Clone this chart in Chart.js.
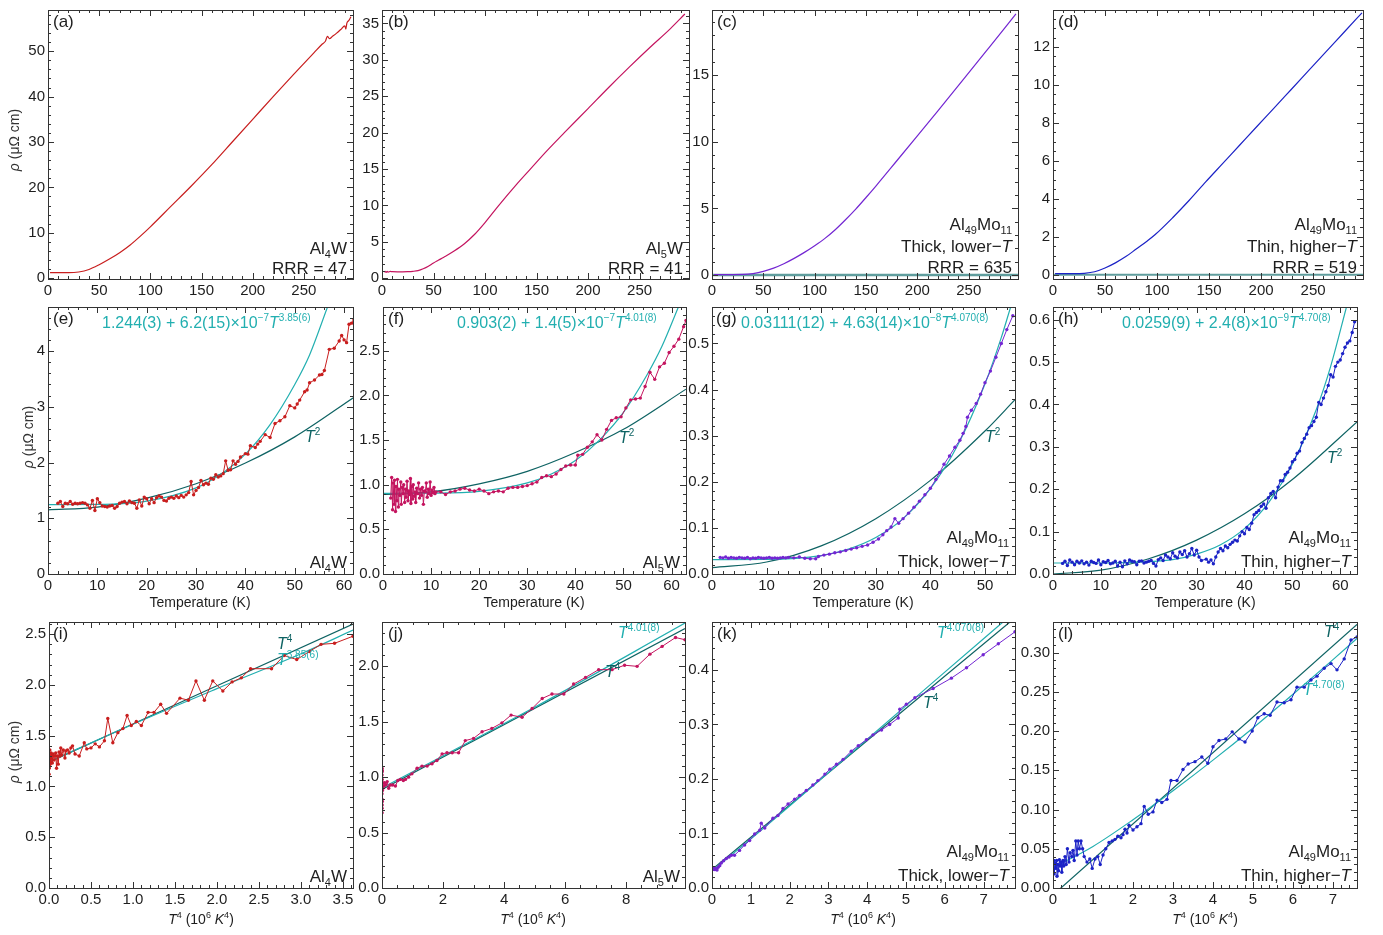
<!DOCTYPE html>
<html>
<head>
<meta charset="utf-8">
<script src="https://cdn.jsdelivr.net/npm/chart.js@4.4.1/dist/chart.umd.min.js"></script>
<style>
  body { margin: 0; background: #fff; width: 1383px; height: 935px; position: relative; overflow: hidden; }
  canvas { position: absolute; }
</style>
</head>
<body>
<script>
// readings taken off the figure: [T (K) or T^4 (10^6 K^4), rho (uOhm cm)]

// top row, full temperature range
const aRho = [[2,1.2],[10,1.2],[20,1.2],[30,1.35],[40,1.9],[50,2.95],[60,4.2],[70,5.6],[80,7.25],[90,9.2],[100,11.3],[120,15.8],[140,20.3],[160,25.0],[180,30.0],[200,35.0],[220,40.0],[240,44.9],[260,49.7],[268,51.6],[271,52.2],[273,53.3],[275,52.8],[278,53.3],[282,54.0],[286,54.8],[290,55.6],[291,54.9],[292,56.2],[294,56.8],[296,57.6]];
const bRho = [[2,0.85],[3,0.95],[4,0.8],[5,0.95],[6,0.85],[8,0.95],[10,0.9],[15,0.88],[20,0.88],[25,0.9],[30,0.95],[35,1.05],[40,1.3],[45,1.65],[50,2.1],[55,2.5],[60,2.9],[70,3.75],[80,4.75],[90,6.05],[100,7.65],[113,9.95],[130,12.8],[144,15.0],[160,17.5],[177,20.0],[200,23.3],[220,26.2],[240,29.0],[260,31.7],[280,34.3],[294,36.3]];
const cRho = [[2,0.03],[10,0.03],[20,0.03],[30,0.04],[40,0.11],[50,0.27],[60,0.52],[70,0.85],[80,1.25],[90,1.7],[100,2.2],[110,2.75],[120,3.4],[130,4.15],[140,4.95],[150,5.82],[160,6.72],[180,8.58],[200,10.45],[220,12.33],[246,14.8],[270,17.1],[296,19.6]];
const dRho = [[2,0.05],[10,0.05],[20,0.05],[30,0.07],[40,0.15],[50,0.35],[60,0.62],[70,0.95],[80,1.35],[90,1.75],[98,2.1],[115,3.0],[131,3.92],[147,4.9],[163,5.85],[180,6.86],[196,7.81],[212,8.75],[229,9.76],[245,10.71],[261,11.66],[280,12.79],[297,13.8]];
const zeroLine = [[0,0],[298,0]];

// middle row, low temperature
const eRho = [[2,1.27],[2.5,1.30],[3,1.21],[3.5,1.27],[4,1.26],[4.5,1.30],[5,1.25],[5.5,1.27],[6,1.26],[6.5,1.27],[7,1.28],[7.5,1.27],[8,1.24],[8.5,1.18],[9,1.32],[9.5,1.14],[10,1.35],[10.5,1.28],[11,1.22],[11.5,1.21],[12,1.20],[12.5,1.22],[13,1.23],[13.5,1.18],[14,1.21],[14.5,1.27],[15,1.29],[15.5,1.30],[16,1.26],[16.5,1.31],[17,1.28],[17.5,1.27],[18,1.18],[18.5,1.33],[19,1.22],[19.5,1.38],[20,1.35],[20.5,1.26],[21,1.35],[21.5,1.28],[22,1.37],[22.5,1.40],[23,1.38],[23.5,1.32],[24,1.31],[24.5,1.36],[25,1.38],[25.5,1.36],[26,1.40],[26.5,1.37],[27,1.41],[27.5,1.38],[28,1.42],[28.5,1.46],[29,1.66],[29.5,1.42],[30,1.50],[30.5,1.55],[31,1.68],[31.5,1.60],[32,1.63],[32.5,1.61],[33,1.72],[33.5,1.70],[34,1.78],[34.5,1.74],[35,1.76],[35.5,1.80],[36,2.03],[36.5,1.86],[37,1.87],[37.5,2.03],[38,1.97],[38.5,2.02],[39,2.10],[40,2.16],[40.5,2.15],[41,2.30],[42,2.27],[42.5,2.33],[43,2.38],[44,2.50],[45,2.45],[46,2.70],[47,2.75],[48,2.82],[49,3.02],[50,2.98],[50.5,3.05],[51,3.12],[52,3.27],[52.5,3.30],[53,3.43],[54,3.48],[55,3.57],[55.5,3.58],[56,3.65],[57,4.03],[58,4.05],[59,4.18],[59.5,4.28],[60,4.20],[60.5,4.15],[61,4.48],[61.5,4.50],[62,4.56]];
const eFit = [[0,1.244],[10,1.248],[20,1.307],[30,1.545],[35,1.79],[40,2.15],[45,2.68],[50,3.4],[53,3.93],[56.6,4.78]];
const eT2 = [[0,1.15],[10,1.2],[20,1.36],[30,1.62],[40,1.99],[50,2.46],[62,3.17]];

const fRho = [[1.6,0.85],[1.8,1.08],[2.0,0.72],[2.1,1.02],[2.3,0.78],[2.4,1.05],[2.6,0.70],[2.7,0.98],[2.9,0.82],[3.0,1.06],[3.2,0.75],[3.3,0.95],[3.5,0.88],[3.7,1.03],[3.8,0.78],[4.0,0.97],[4.2,0.90],[4.3,1.00],[4.5,0.80],[4.7,0.95],[4.8,0.86],[5.0,1.04],[5.2,0.82],[5.3,0.93],[5.5,0.89],[5.7,1.07],[5.8,0.79],[6.0,0.98],[6.2,0.84],[6.3,1.00],[6.5,0.87],[6.7,0.92],[6.8,0.80],[7.0,0.96],[7.2,0.90],[7.4,1.02],[7.6,0.85],[7.8,0.95],[8.0,0.88],[8.2,0.97],[8.4,0.78],[8.6,0.93],[8.8,0.92],[9.0,1.02],[9.2,0.86],[9.4,0.95],[9.6,0.90],[9.8,1.03],[10.0,0.88],[10.2,0.94],[10.4,0.91],[10.6,0.97],[10.8,0.90],[11.0,0.92],[12,0.92],[13,0.89],[14,0.92],[15,0.93],[16,0.95],[17,0.96],[18,0.94],[19,0.93],[20,0.95],[21,0.93],[22,0.90],[23,0.92],[24,0.93],[25,0.92],[26,0.96],[27,0.97],[28,0.97],[29,0.98],[30,0.99],[31,1.01],[32,1.03],[33,1.08],[34,1.10],[35,1.09],[36,1.12],[37,1.17],[38,1.21],[39,1.22],[40,1.22],[40.5,1.33],[41.5,1.34],[42.5,1.42],[43.5,1.48],[44.5,1.56],[45.5,1.50],[46.5,1.62],[47.5,1.72],[48.5,1.75],[49.5,1.76],[50.5,1.86],[51.5,1.95],[52.5,1.96],[53.5,1.97],[54.5,2.10],[55.5,2.26],[56.5,2.18],[57.5,2.32],[58.5,2.36],[59.5,2.48],[60.5,2.55],[61.5,2.63],[62.5,2.77],[63,2.84]];
const fFit = [[0,0.903],[10,0.905],[20,0.925],[30,1.02],[35,1.12],[40,1.27],[45,1.5],[50,1.81],[55,2.24],[58,2.55],[61.5,3.0]];
const fT2 = [[0,0.89],[10,0.92],[20,1.01],[30,1.15],[40,1.36],[50,1.62],[63,2.07]];

const gRho = [[1.5,0.036],[2,0.035],[2.5,0.037],[3,0.034],[3.5,0.036],[4,0.035],[4.5,0.034],[5,0.036],[5.5,0.035],[6,0.034],[6.5,0.036],[7,0.033],[7.5,0.035],[8,0.034],[8.5,0.036],[9,0.035],[9.5,0.034],[10,0.035],[10.5,0.036],[11,0.034],[11.5,0.035],[12,0.034],[12.5,0.035],[13,0.036],[13.5,0.035],[14,0.036],[15,0.035],[16,0.037],[17,0.034],[18,0.033],[19,0.033],[19.5,0.038],[20.5,0.041],[21.5,0.043],[22.5,0.046],[23.5,0.048],[24.5,0.051],[25.5,0.054],[26.5,0.057],[27.5,0.06],[28.5,0.063],[29.5,0.069],[30.5,0.076],[31.3,0.085],[32,0.094],[32.8,0.102],[33.5,0.12],[34.2,0.11],[35,0.12],[36,0.132],[37,0.145],[38,0.158],[39,0.172],[40,0.186],[41,0.205],[41.7,0.22],[42.5,0.238],[43.5,0.256],[44.5,0.275],[45.4,0.29],[46,0.305],[46.5,0.32],[46.8,0.34],[47.5,0.355],[48.4,0.37],[49.2,0.39],[50,0.415],[51,0.44],[52,0.47],[53,0.5],[54,0.53],[55.1,0.56]];
const gFit = [[0,0.0311],[10,0.0316],[20,0.040],[25,0.054],[30,0.079],[35,0.12],[40,0.185],[45,0.279],[50,0.412],[53,0.513],[54.7,0.579]];
const gT2 = [[0,0.014],[10,0.026],[20,0.061],[30,0.12],[40,0.203],[50,0.31],[55.5,0.378]];

const hRho = [[2,0.025],[2.5,0.030],[3,0.020],[3.5,0.033],[4,0.028],[4.5,0.022],[5,0.030],[5.5,0.026],[6,0.031],[6.5,0.024],[7,0.028],[7.5,0.021],[8,0.030],[8.5,0.027],[9,0.025],[9.5,0.033],[10,0.022],[10.5,0.029],[11,0.027],[11.5,0.032],[12,0.024],[12.5,0.026],[13,0.030],[13.5,0.019],[14,0.028],[14.5,0.017],[15,0.031],[15.5,0.024],[16,0.033],[16.5,0.030],[17,0.029],[17.5,0.022],[18,0.030],[18.5,0.031],[19,0.026],[19.5,0.028],[20,0.030],[20.5,0.032],[21,0.025],[21.5,0.019],[22,0.034],[22.5,0.038],[23,0.032],[23.5,0.045],[24,0.040],[24.5,0.036],[25,0.050],[25.5,0.042],[26,0.038],[26.5,0.052],[27,0.046],[27.5,0.055],[28,0.040],[28.5,0.048],[29,0.060],[29.5,0.045],[30,0.056],[30.5,0.040],[31,0.032],[32,0.035],[32.5,0.028],[33,0.033],[33.5,0.024],[34,0.040],[34.5,0.052],[35,0.060],[35.5,0.055],[36,0.066],[36.5,0.062],[37,0.070],[37.5,0.075],[38,0.080],[38.5,0.078],[39,0.090],[39.5,0.100],[40,0.095],[40.5,0.110],[41,0.105],[41.5,0.120],[42,0.140],[42.5,0.145],[43,0.150],[43.5,0.160],[44,0.165],[44.5,0.155],[45,0.180],[45.5,0.190],[46,0.195],[46.5,0.180],[47,0.205],[47.5,0.220],[48,0.220],[48.5,0.235],[49,0.240],[49.5,0.250],[50,0.265],[50.5,0.270],[51,0.285],[51.5,0.290],[52,0.310],[52.5,0.320],[53,0.330],[53.5,0.345],[54,0.350],[54.5,0.360],[55,0.370],[55.5,0.405],[56,0.400],[56.5,0.415],[57,0.430],[57.5,0.445],[58,0.470],[58.5,0.465],[59,0.490],[59.5,0.500],[60,0.505],[60.5,0.520],[61,0.535],[61.5,0.545],[62,0.550],[62.5,0.570],[63,0.595]];
const hFit = [[0,0.0259],[10,0.026],[20,0.029],[25,0.034],[30,0.047],[35,0.069],[40,0.107],[45,0.168],[50,0.259],[55,0.388],[58,0.49],[61.3,0.63]];
const hT2 = [[0,0.0],[10,0.009],[20,0.036],[30,0.08],[40,0.142],[50,0.223],[63.5,0.359]];

// bottom row, against T^4
const iRho = [[0,1.25],[0.001,1.12],[0.002,1.3],[0.003,1.18],[0.005,1.33],[0.007,1.2],[0.01,1.36],[0.013,1.22],[0.016,1.3],[0.02,1.24],[0.025,1.33],[0.03,1.27],[0.035,1.3],[0.04,1.23],[0.05,1.32],[0.06,1.26],[0.07,1.3],[0.08,1.33],[0.09,1.18],[0.1,1.3],[0.11,1.22],[0.12,1.34],[0.13,1.3],[0.14,1.38],[0.15,1.31],[0.17,1.36],[0.19,1.28],[0.2,1.35],[0.22,1.36],[0.24,1.33],[0.26,1.38],[0.28,1.4],[0.31,1.32],[0.36,1.3],[0.42,1.43],[0.45,1.37],[0.5,1.38],[0.55,1.42],[0.6,1.39],[0.66,1.45],[0.7,1.67],[0.76,1.43],[0.82,1.53],[0.88,1.57],[0.93,1.7],[0.98,1.6],[1.04,1.64],[1.1,1.6],[1.18,1.73],[1.25,1.73],[1.33,1.81],[1.4,1.72],[1.56,1.87],[1.66,1.85],[1.75,2.04],[1.85,1.85],[1.95,2.04],[2.07,1.94],[2.18,2.03],[2.29,2.07],[2.4,2.16],[2.65,2.16],[2.8,2.29],[2.95,2.25],[3.1,2.33],[3.24,2.4],[3.4,2.41],[3.62,2.48]];
const iFit = [[0,1.244],[1,1.613],[2,1.964],[3,2.307],[3.62,2.54]];
const iT4 = [[0,1.24],[3.62,2.6]];

const jRho = [[0,0.85],[0.001,1.08],[0.002,0.72],[0.003,1.02],[0.004,0.68],[0.005,1.05],[0.006,0.75],[0.007,0.98],[0.008,0.8],[0.009,1.06],[0.01,0.78],[0.012,0.95],[0.014,0.88],[0.02,0.92],[0.03,0.9],[0.05,0.92],[0.08,0.95],[0.12,0.93],[0.17,0.96],[0.22,0.9],[0.28,0.93],[0.35,0.93],[0.44,0.92],[0.52,0.97],[0.6,0.98],[0.7,0.97],[0.77,0.98],[0.87,1.0],[0.98,1.03],[1.15,1.08],[1.31,1.1],[1.48,1.1],[1.64,1.12],[1.8,1.15],[1.97,1.21],[2.13,1.22],[2.3,1.22],[2.51,1.22],[2.73,1.33],[3.0,1.35],[3.28,1.41],[3.6,1.44],[3.93,1.49],[4.23,1.56],[4.59,1.54],[4.92,1.62],[5.25,1.71],[5.57,1.75],[5.96,1.75],[6.28,1.84],[6.67,1.9],[7.1,1.97],[7.54,1.97],[7.95,2.01],[8.36,2.0],[8.78,2.11],[9.18,2.18],[9.62,2.26],[9.93,2.24]];
const jFit = [[0,0.903],[5,1.63],[9.93,2.39]];
const jT4 = [[0,0.89],[9.93,2.34]];

const kRho = [[0,0.036],[0.002,0.034],[0.005,0.037],[0.01,0.035],[0.02,0.034],[0.03,0.036],[0.05,0.035],[0.07,0.034],[0.09,0.036],[0.11,0.034],[0.13,0.033],[0.16,0.038],[0.2,0.041],[0.24,0.046],[0.3,0.05],[0.37,0.054],[0.44,0.057],[0.5,0.06],[0.58,0.06],[0.71,0.069],[0.84,0.079],[0.97,0.087],[1.1,0.099],[1.23,0.106],[1.27,0.119],[1.36,0.11],[1.57,0.128],[1.7,0.133],[1.83,0.146],[1.96,0.154],[2.13,0.163],[2.26,0.17],[2.43,0.179],[2.6,0.189],[2.73,0.197],[2.91,0.209],[3.04,0.218],[3.21,0.227],[3.38,0.236],[3.59,0.251],[3.77,0.261],[3.98,0.272],[4.15,0.281],[4.37,0.29],[4.58,0.3],[4.8,0.312],[4.84,0.328],[5.01,0.337],[5.23,0.349],[5.7,0.366],[6.17,0.385],[6.56,0.404],[6.99,0.428],[7.38,0.448],[7.81,0.47]];
const kFit = [[0,0.0311],[1,0.09],[2,0.1505],[4,0.2728],[6,0.396],[7.5,0.488]];
const kT4 = [[0,0.034],[7.68,0.488]];

const lRho = [[0,0.03],[0.01,0.02],[0.02,0.035],[0.03,0.018],[0.05,0.032],[0.07,0.025],[0.09,0.035],[0.1,0.015],[0.12,0.03],[0.14,0.022],[0.16,0.036],[0.18,0.028],[0.2,0.033],[0.22,0.02],[0.25,0.035],[0.27,0.028],[0.3,0.04],[0.33,0.03],[0.36,0.05],[0.4,0.033],[0.43,0.045],[0.47,0.04],[0.5,0.048],[0.53,0.035],[0.57,0.06],[0.6,0.042],[0.63,0.06],[0.66,0.05],[0.7,0.06],[0.74,0.05],[0.78,0.04],[0.85,0.033],[0.92,0.037],[0.98,0.025],[1.05,0.037],[1.12,0.04],[1.18,0.03],[1.25,0.042],[1.32,0.05],[1.4,0.058],[1.48,0.06],[1.55,0.062],[1.62,0.066],[1.7,0.064],[1.75,0.068],[1.8,0.075],[1.85,0.07],[1.9,0.08],[2.0,0.074],[2.1,0.078],[2.2,0.082],[2.28,0.104],[2.38,0.094],[2.5,0.097],[2.6,0.112],[2.72,0.109],[2.85,0.113],[2.95,0.137],[3.1,0.137],[3.25,0.151],[3.38,0.158],[3.55,0.161],[3.72,0.167],[3.87,0.159],[4.0,0.18],[4.15,0.188],[4.32,0.19],[4.48,0.199],[4.65,0.19],[4.8,0.186],[4.98,0.2],[5.12,0.217],[5.28,0.222],[5.43,0.22],[5.6,0.237],[5.78,0.236],[5.95,0.24],[6.1,0.256],[6.28,0.256],[6.45,0.265],[6.6,0.27],[6.78,0.28],[6.95,0.286],[7.1,0.278],[7.28,0.292],[7.45,0.316],[7.6,0.32]];
const lFit = [[0,0.0259],[1,0.053],[2,0.087],[3,0.124],[4,0.163],[5,0.204],[6,0.247],[7,0.291],[7.6,0.318]];
const lT4 = [[0,-0.009],[7.6,0.336]];

// text
const fitE = '1.244(3) + 6.2(15)×10^{−7}*T*^{3.85(6)}';
const fitF = '0.903(2) + 1.4(5)×10^{−7}*T*^{4.01(8)}';
const fitG = '0.03111(12) + 4.63(14)×10^{−8}*T*^{4.070(8)}';
const fitH = '0.0259(9) + 2.4(8)×10^{−9}*T*^{4.70(8)}';
const rhoTitle = '*ρ* (μΩ cm)';
const tempTitle = 'Temperature (K)';
const t4Title = '*T*^{4} (10^{6} *K*^{4})';

const FAM = '"Liberation Sans", Arial, Helvetica, sans-serif';
const INK = '#1e1e1e';
const RED = '#c81e1e', CRIMSON = '#c4145f', PURPLE = '#7326d2', BLUE = '#1b22c6';
const CYAN = '#22afb0', TEAL = '#0e6363', ZERO = '#5f9d9d';

Chart.defaults.font.family = FAM;
Chart.defaults.color = INK;

function pts(arr) { return arr.map(p => ({ x: p[0], y: p[1] })); }

function curve(arr, color) {
  return { data: pts(arr), borderColor: color, backgroundColor: color, borderWidth: 1.2,
    pointRadius: 0, showLine: true, cubicInterpolationMode: 'monotone' };
}
function straight(arr, color, width) {
  return { data: pts(arr), borderColor: color, borderWidth: width, pointRadius: 0, showLine: true, tension: 0 };
}
function measured(arr, color) {
  return { data: pts(arr), borderColor: color, backgroundColor: color, borderWidth: 1,
    pointRadius: 1.7, pointBorderWidth: 0, showLine: true, tension: 0 };
}
function fit(arr, color) {
  return { data: pts(arr), borderColor: color, borderWidth: 1.2, pointRadius: 0,
    showLine: true, cubicInterpolationMode: 'monotone' };
}

// tiny markup: ^{..} superscript, _{..} subscript, *..* italic
function parseRich(s) {
  const segs = [];
  let i = 0, it = false, buf = '';
  const flush = () => { if (buf) segs.push({ t: buf, mode: 'n', it }); buf = ''; };
  while (i < s.length) {
    const c = s[i];
    if ((c === '^' || c === '_') && s[i + 1] === '{') {
      flush();
      const j = s.indexOf('}', i);
      segs.push({ t: s.slice(i + 2, j), mode: c === '^' ? 'sup' : 'sub', it: false });
      i = j + 1;
      continue;
    }
    if (c === '*') { flush(); it = !it; i++; continue; }
    buf += c; i++;
  }
  flush();
  return segs;
}

function drawRich(ctx, s, x, y, align, size, color) {
  const segs = parseRich(s);
  const small = Math.round(size * 0.64);
  let total = 0;
  segs.forEach(g => {
    g.font = (g.it ? 'italic ' : '') + (g.mode === 'n' ? size : small) + 'px ' + FAM;
    ctx.font = g.font;
    g.w = ctx.measureText(g.t).width;
    total += g.w;
  });
  let cx = align === 'right' ? x - total : align === 'center' ? x - total / 2 : x;
  ctx.fillStyle = color;
  ctx.textAlign = 'left';
  ctx.textBaseline = 'alphabetic';
  segs.forEach(g => {
    ctx.font = g.font;
    const dy = g.mode === 'sup' ? -size * 0.42 : g.mode === 'sub' ? size * 0.24 : 0;
    ctx.fillText(g.t, cx, y + dy);
    cx += g.w;
  });
}

function framePlugin(p, ox, oy) {
  return {
    id: 'frame_' + p.key,
    afterDatasetsDraw(chart) {
      const { ctx, chartArea: a, scales } = chart;
      ctx.save();
      ctx.strokeStyle = '#333';
      ctx.lineWidth = 1;
      const marks = (scale, major, minor, horiz) => {
        const k0 = Math.ceil(scale.min / minor - 1e-6);
        for (let k = k0; k * minor <= scale.max + 1e-9; k++) {
          const v = k * minor;
          const r = v / major;
          const len = Math.abs(r - Math.round(r)) < 1e-6 ? 6 : 3;
          const q = Math.round(scale.getPixelForValue(v)) + 0.5;
          ctx.beginPath();
          if (horiz) {
            ctx.moveTo(q, a.bottom); ctx.lineTo(q, a.bottom - len);
            ctx.moveTo(q, a.top); ctx.lineTo(q, a.top + len);
          } else {
            ctx.moveTo(a.left, q); ctx.lineTo(a.left + len, q);
            ctx.moveTo(a.right, q); ctx.lineTo(a.right - len, q);
          }
          ctx.stroke();
        }
      };
      marks(scales.x, p.x[2], p.x[3], true);
      marks(scales.y, p.y[2], p.y[3], false);
      ctx.strokeRect(Math.round(a.left) + 0.5, Math.round(a.top) + 0.5,
        Math.round(a.right - a.left), Math.round(a.bottom - a.top));
      ctx.restore();
    },
    afterDraw(chart) {
      const ctx = chart.ctx;
      ctx.save();
      p.texts.forEach(t => drawRich(ctx, t[0], t[1] - ox, t[2] - oy, t[3] || 'left', t[4] || 17, t[5] || INK));
      if (p.xTitle) drawRich(ctx, p.xTitle[0], p.xTitle[1] - ox, p.xTitle[2] - oy, 'center', 14, INK);
      if (p.yTitle) {
        ctx.save();
        ctx.translate(p.yTitle[1] - ox, p.yTitle[2] - oy);
        ctx.rotate(-Math.PI / 2);
        drawRich(ctx, p.yTitle[0], 0, 5, 'center', 14, '#333');
        ctx.restore();
      }
      ctx.restore();
    }
  };
}

function build(p) {
  const [bx, by, bw, bh] = p.box;
  const ox = bx - 46, oy = by - 6;
  const W = bw + 56, H = bh + 6 + p.bm;
  const cv = document.createElement('canvas');
  cv.width = W; cv.height = H;
  cv.style.left = ox + 'px'; cv.style.top = oy + 'px';
  cv.style.width = W + 'px'; cv.style.height = H + 'px';
  document.body.appendChild(cv);
  const axis = (r, dec, fitSize) => ({
    type: 'linear', min: r[0], max: r[1],
    afterFit: fitSize,
    // labelled ticks on exact multiples of the step, inside the range only
    afterBuildTicks: s => {
      const t = [];
      for (let k = Math.ceil(r[0] / r[2] - 1e-9); k * r[2] <= r[1] + 1e-9; k++) {
        t.push({ value: +(k * r[2]).toFixed(6) });
      }
      s.ticks = t;
    },
    grid: { display: false, drawTicks: false },
    border: { display: false },
    ticks: { autoSkip: false, maxRotation: 0, minRotation: 0, padding: 3,
      font: { size: 15 }, color: INK,
      callback: v => Number(v).toFixed(dec) }
  });
  new Chart(cv, {
    type: 'scatter',
    data: { datasets: p.series },
    options: {
      responsive: false, animation: false, devicePixelRatio: 1,
      layout: { autoPadding: false, padding: { left: 0, top: 6, right: 10, bottom: 0 } },
      plugins: { legend: { display: false }, tooltip: { enabled: false } },
      scales: {
        x: axis(p.x, p.xd || 0, s => { s.height = p.bm; }),
        y: axis(p.y, p.yd || 0, s => { s.width = 46; })
      }
    },
    plugins: [framePlugin(p, ox, oy)]
  });
}

const panels = [
  { key: 'a', box: [48, 4, 305, 275], bm: 26, x: [0, 298, 50, 10], y: [-0.2, 59.1, 10, 2],
    series: [curve(aRho, RED)], yTitle: [rhoTitle, 14, 140],
    texts: [['(a)', 53, 27], ['Al_{4}W', 347, 254, 'right'], ['RRR = 47', 347, 274, 'right']] },
  { key: 'b', box: [382, 4, 307, 275], bm: 26, x: [0, 298, 50, 10], y: [-0.1, 36.85, 5, 1],
    series: [curve(bRho, CRIMSON)],
    texts: [['(b)', 388, 27], ['Al_{5}W', 683, 254, 'right'], ['RRR = 41', 683, 274, 'right']] },
  { key: 'c', box: [712, 4, 306, 275], bm: 26, x: [0, 298, 50, 10], y: [-0.3, 19.9, 5, 1],
    series: [curve(cRho, PURPLE), straight(zeroLine, ZERO, 2.4)],
    texts: [['(c)', 717, 27], ['Al_{49}Mo_{11}', 1012, 230, 'right'], ['Thick, lower−*T*', 1012, 252, 'right'], ['RRR = 635', 1012, 273, 'right']] },
  { key: 'd', box: [1053, 4, 310, 275], bm: 26, x: [0, 298, 50, 10], y: [-0.23, 13.95, 2, 0.5],
    series: [curve(dRho, BLUE), straight(zeroLine, ZERO, 2)],
    texts: [['(d)', 1058, 27], ['Al_{49}Mo_{11}', 1357, 230, 'right'], ['Thin, higher−*T*', 1357, 252, 'right'], ['RRR = 519', 1357, 273, 'right']] },

  { key: 'e', box: [48, 301, 305, 273], bm: 45, x: [0, 61.8, 10, 2], y: [0, 4.79, 1, 0.2],
    series: [measured(eRho, RED), fit(eFit, CYAN), fit(eT2, TEAL)],
    yTitle: [rhoTitle, 28, 437], xTitle: [tempTitle, 200, 607],
    texts: [['(e)', 53, 324], [fitE, 102, 328, 'left', 16, CYAN], ['*T*^{2}', 305, 442, 'left', 16, TEAL], ['Al_{4}W', 347, 568, 'right']] },
  { key: 'f', box: [383, 301, 303, 273], bm: 45, x: [0, 63.0, 10, 2], y: [0, 2.99, 0.5, 0.1], yd: 1,
    series: [measured(fRho, CRIMSON), fit(fFit, CYAN), fit(fT2, TEAL)],
    xTitle: [tempTitle, 534, 607],
    texts: [['(f)', 388, 324], [fitF, 457, 328, 'left', 16, CYAN], ['*T*^{2}', 619, 443, 'left', 16, TEAL], ['Al_{5}W', 680, 568, 'right']] },
  { key: 'g', box: [712, 301, 303, 273], bm: 45, x: [0, 55.5, 10, 2], y: [0, 0.579, 0.1, 0.02], yd: 1,
    series: [measured(gRho, PURPLE), fit(gFit, CYAN), fit(gT2, TEAL)],
    xTitle: [tempTitle, 863, 607],
    texts: [['(g)', 716, 324], [fitG, 741, 328, 'left', 16, CYAN], ['*T*^{2}', 985, 442, 'left', 16, TEAL], ['Al_{49}Mo_{11}', 1009, 543, 'right'], ['Thick, lower−*T*', 1009, 567, 'right']] },
  { key: 'h', box: [1053, 301, 304, 273], bm: 45, x: [0, 63.5, 10, 2], y: [0, 0.63, 0.1, 0.02], yd: 1,
    series: [measured(hRho, BLUE), fit(hFit, CYAN), fit(hT2, TEAL)],
    xTitle: [tempTitle, 1205, 607],
    texts: [['(h)', 1058, 324], [fitH, 1122, 328, 'left', 16, CYAN], ['*T*^{2}', 1327, 463, 'left', 16, TEAL], ['Al_{49}Mo_{11}', 1351, 543, 'right'], ['Thin, higher−*T*', 1351, 567, 'right']] },

  { key: 'i', box: [49, 616, 304, 272], bm: 45, x: [0, 3.62, 0.5, 0.1], y: [0, 2.62, 0.5, 0.1], xd: 1, yd: 1,
    series: [measured(iRho, RED), fit(iFit, CYAN), fit(iT4, TEAL)],
    yTitle: [rhoTitle, 14, 752], xTitle: [t4Title, 201, 924],
    texts: [['(i)', 53, 639], ['*T*^{4}', 277, 649, 'left', 16, TEAL], ['*T*^{3.85(6)}', 277, 665, 'left', 16, CYAN], ['Al_{4}W', 347, 882, 'right']] },
  { key: 'j', box: [382, 616, 303, 272], bm: 45, x: [0, 9.93, 2, 0.5], y: [0, 2.40, 0.5, 0.1], yd: 1,
    series: [measured(jRho, CRIMSON), fit(jFit, CYAN), fit(jT4, TEAL)],
    xTitle: [t4Title, 533, 924],
    texts: [['(j)', 388, 639], ['*T*^{4.01(8)}', 618, 638, 'left', 16, CYAN], ['*T*^{4}', 605, 677, 'left', 16, TEAL], ['Al_{5}W', 680, 882, 'right']] },
  { key: 'k', box: [712, 616, 303, 272], bm: 45, x: [0, 7.81, 1, 0.2], y: [0, 0.488, 0.1, 0.02], yd: 1,
    series: [measured(kRho, PURPLE), fit(kFit, CYAN), fit(kT4, TEAL)],
    xTitle: [t4Title, 863, 924],
    texts: [['(k)', 717, 639], ['*T*^{4.070(8)}', 937, 638, 'left', 16, CYAN], ['*T*^{4}', 923, 708, 'left', 16, TEAL], ['Al_{49}Mo_{11}', 1009, 857, 'right'], ['Thick, lower−*T*', 1009, 881, 'right']] },
  { key: 'l', box: [1053, 616, 304, 272], bm: 45, x: [0, 7.6, 1, 0.2], y: [0, 0.339, 0.05, 0.01], yd: 2,
    series: [measured(lRho, BLUE), fit(lFit, CYAN), fit(lT4, TEAL)],
    xTitle: [t4Title, 1205, 924],
    texts: [['(l)', 1058, 639], ['*T*^{4}', 1324, 637, 'left', 16, TEAL], ['*T*^{4.70(8)}', 1303, 695, 'left', 16, CYAN], ['Al_{49}Mo_{11}', 1351, 857, 'right'], ['Thin, higher−*T*', 1351, 881, 'right']] }
];

panels.forEach(build);
</script>
</body>
</html>
